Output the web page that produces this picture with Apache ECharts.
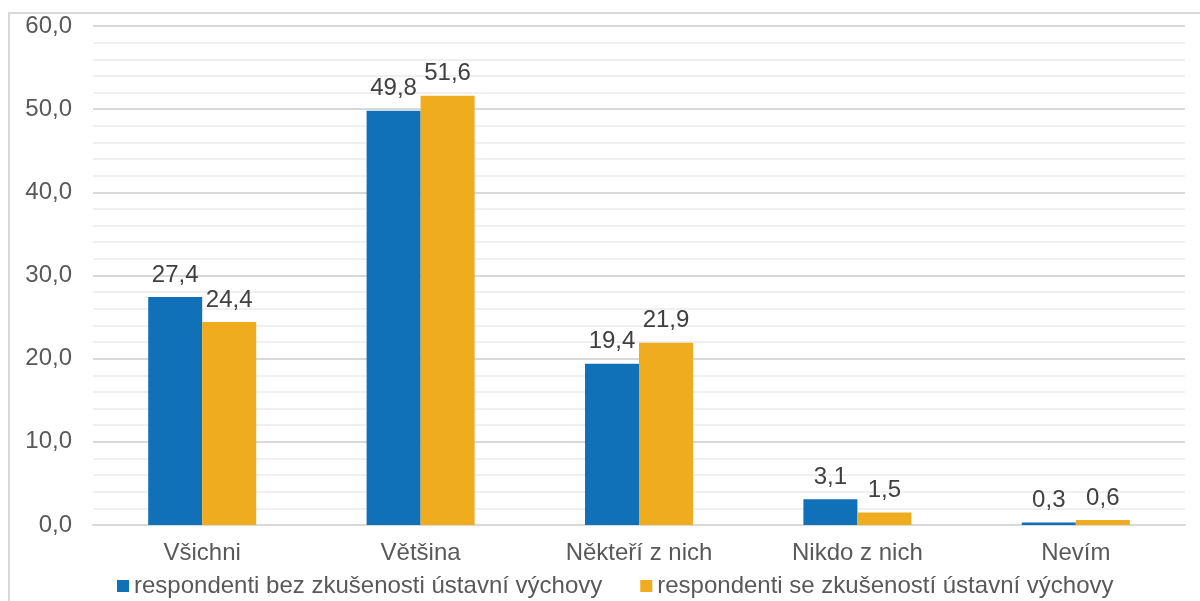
<!DOCTYPE html>
<html>
<head>
	<meta charset="utf-8">
	<title>graf</title>
	<script src="https://cdn.jsdelivr.net/npm/echarts@6/dist/echarts.min.js"></script>
	<style>
		html, body { margin: 0; padding: 0; background: #fff; }
		#main { width: 1200px; height: 601px; }
	</style>
</head>
<body>
	<div id="main"></div>
	<script>
		var kategorie = ['Všichni', 'Většina', 'Někteří z nich', 'Nikdo z nich', 'Nevím'];
		var bezZkusenosti = [27.4, 49.8, 19.4, 3.1, 0.3];
		var seZkusenosti = [24.4, 51.6, 21.9, 1.5, 0.6];
		var nazvy = ['respondenti bez zkušenosti ústavní výchovy', 'respondenti se zkušeností ústavní výchovy'];

		var myChart = echarts.init(document.getElementById('main'));
		// popisek hodnot s desetinnou čárkou
		var fmt = function (p) { return p.value.toFixed(1).replace('.', ','); };

		myChart.setOption({
			backgroundColor: '#fff',
			textStyle: { fontFamily: 'Liberation Sans, Arial, sans-serif' },
			graphic: [{
				type: 'rect',
				shape: { x: 9, y: 13, width: 1200, height: 600 },
				style: { fill: 'none', stroke: '#d9d9d9', lineWidth: 2 },
				silent: true
			}],
			grid: { left: 93, right: 15, top: 26, bottom: 76, containLabel: false },
			legend: {
				top: 569,
				left: 112,
				itemWidth: 12,
				itemHeight: 12,
				itemGap: 38,
				icon: 'rect',
				textStyle: { fontSize: 24, color: '#595959', padding: [0, 0, 0, 0] },
				data: nazvy
			},
			xAxis: {
				type: 'category',
				data: kategorie,
				axisLine: { lineStyle: { color: '#d9d9d9', width: 2 } },
				axisTick: { show: false },
				axisLabel: { fontSize: 24, color: '#595959', margin: 16 }
			},
			yAxis: {
				type: 'value',
				min: 0,
				max: 60,
				interval: 10,
				axisLine: { show: false },
				axisTick: { show: false },
				axisLabel: {
					fontSize: 24, color: '#595959', margin: 21,
					formatter: function (v) { return v.toFixed(1).replace('.', ','); }
				},
				splitLine: { lineStyle: { color: '#d9d9d9', width: 2 } },
				minorTick: { show: false, splitNumber: 5 },
				minorSplitLine: { show: true, lineStyle: { color: '#f0f0f0', width: 2 } }
			},
			series: [{
				name: nazvy[0],
				type: 'bar',
				data: bezZkusenosti,
				barWidth: 54,
				barGap: '0%',
				itemStyle: { color: '#1071b9' },
				label: { show: true, position: 'top', fontSize: 24, color: '#404040', formatter: fmt, distance: 10 }
			}, {
				name: nazvy[1],
				type: 'bar',
				data: seZkusenosti,
				barWidth: 54,
				itemStyle: { color: '#efac1e' },
				label: { show: true, position: 'top', fontSize: 24, color: '#404040', formatter: fmt, distance: 10 }
			}]
		});
	</script>
</body>
</html>
